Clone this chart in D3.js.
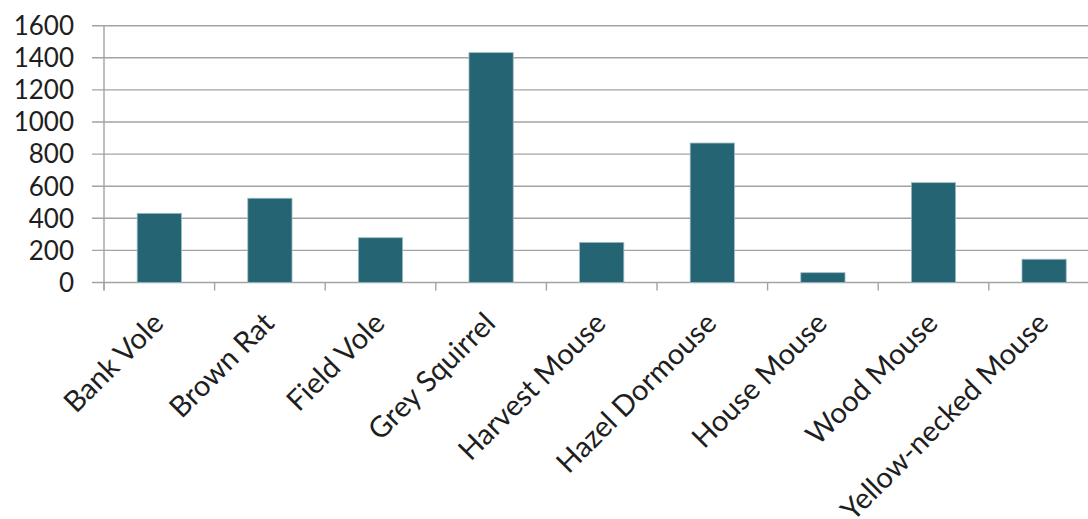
<!DOCTYPE html>
<html>
<head>
<meta charset="utf-8">
<script src="https://cdn.jsdelivr.net/npm/d3@7"></script>
<style>
  html, body { margin: 0; padding: 0; background: #ffffff; }
  svg { display: block; }
  text { font-family: Lato, "Open Sans", sans-serif; fill: #1e1e1e; }
</style>
</head>
<body>
<svg id="chart" width="1088" height="519"></svg>
<script>
const categories = ["Bank Vole", "Brown Rat", "Field Vole", "Grey Squirrel", "Harvest Mouse", "Hazel Dormouse", "House Mouse", "Wood Mouse", "Yellow-necked Mouse"];
const values = [431, 525, 279, 1432, 250, 869, 61, 622, 145];
const yTicks = [0, 200, 400, 600, 800, 1000, 1200, 1400, 1600];

const svg = d3.select("#chart");
const plotLeft = 104, plotRight = 1099.4, plotTop = 25.7, plotBottom = 282.5;

const x = d3.scaleBand().domain(categories).range([plotLeft, plotRight]).paddingInner(0.6).paddingOuter(0.3);
const y = d3.scaleLinear().domain([0, 1600]).range([plotBottom, plotTop]);

// gridlines + y ticks
svg.append("g").selectAll("line").data(yTicks).join("line")
  .attr("x1", plotLeft - 12).attr("x2", plotRight)
  .attr("y1", d => y(d)).attr("y2", d => y(d))
  .attr("stroke", "#a3a3a3").attr("stroke-width", 1.4);

// y labels
svg.append("g").selectAll("text").data(yTicks).join("text")
  .attr("x", 74).attr("y", d => y(d))
  .attr("dy", "0.36em")
  .attr("text-anchor", "end")
  .attr("font-size", 26)
  .text(d => d);

// y axis line
svg.append("line")
  .attr("x1", plotLeft).attr("x2", plotLeft)
  .attr("y1", plotTop).attr("y2", plotBottom + 8)
  .attr("stroke", "#a3a3a3").attr("stroke-width", 1.4);

// category tick marks (boundaries)
const step = x.step();
const boundaries = d3.range(categories.length + 1).map(i => plotLeft + i * step);
svg.append("g").selectAll("line").data(boundaries).join("line")
  .attr("x1", d => d).attr("x2", d => d)
  .attr("y1", plotBottom).attr("y2", plotBottom + 8)
  .attr("stroke", "#a3a3a3").attr("stroke-width", 1.4);

// bars
svg.append("g").selectAll("rect").data(categories).join("rect")
  .attr("x", d => x(d))
  .attr("y", (d, i) => y(values[i]))
  .attr("width", x.bandwidth())
  .attr("height", (d, i) => y(0) - y(values[i]))
  .attr("fill", "#256473")
  .attr("stroke", "#9dbcc4")
  .attr("stroke-width", 0.8);

// x labels
svg.append("g").selectAll("text").data(categories).join("text")
  .attr("transform", d => `translate(${x(d) + x.bandwidth() / 2 + 6}, ${325}) rotate(-45)`)
  .attr("text-anchor", "end")
  .attr("font-size", 29)
  .text(d => d);
</script>
</body>
</html>
